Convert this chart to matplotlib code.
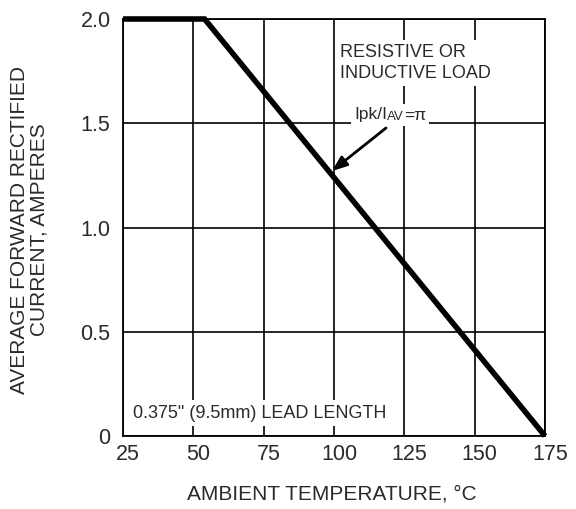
import matplotlib
matplotlib.use("Agg")
import matplotlib.pyplot as plt
import matplotlib.transforms as mtransforms
from matplotlib.offsetbox import TextArea, HPacker, AnnotationBbox

plt.rcParams['font.family'] = ['Liberation Sans', 'DejaVu Sans']

# Data
temps = [25, 54, 175]
current = [2.0, 2.0, 0.0]
x_ticks = [25, 50, 75, 100, 125, 150, 175]
x_tick_labels = ["25", "50", "75", "100", "125", "150", "175"]
y_ticks = [0, 0.5, 1.0, 1.5, 2.0]
y_tick_labels = ["0", "0.5", "1.0", "1.5", "2.0"]

W, H = 576, 509
fig = plt.figure(figsize=(W / 100, H / 100), dpi=100)
ax = fig.add_axes([123 / W, 1 - 436 / H, (545 - 123) / W, (436 - 19) / H])

txt_color = "#2a2a2a"

ax.set_xlim(25, 175)
ax.set_ylim(0, 2.0)
ax.set_xticks(x_ticks)
ax.set_xticklabels(x_tick_labels)
ax.set_yticks(y_ticks)
ax.set_yticklabels(y_tick_labels)
ax.tick_params(length=0, labelsize=15.5, colors=txt_color, pad=6)
ax.tick_params(axis='y', pad=9)
shift = mtransforms.ScaledTranslation(5 / 100, 0, fig.dpi_scale_trans)
for lab in ax.get_xticklabels():
    lab.set_transform(lab.get_transform() + shift)
ax.grid(True, color="black", linewidth=1.2, zorder=1)
for s in ax.spines.values():
    s.set_linewidth(1.3)
    s.set_color("black")

ax.plot(temps, current, color="black", linewidth=4, solid_capstyle="butt",
        solid_joinstyle="miter", zorder=5, clip_on=False)

bbox = dict(facecolor="white", edgecolor="none", pad=3)
ax.text(340 / W, 1 - 63 / H, "RESISTIVE OR\nINDUCTIVE LOAD", transform=fig.transFigure,
        fontsize=13, color=txt_color, va="center", ha="left", bbox=bbox, zorder=3,
        linespacing=1.25)
ax.text(133 / W, 1 - 413 / H, "0.375\" (9.5mm) LEAD LENGTH", transform=fig.transFigure,
        fontsize=13, color=txt_color, va="center", ha="left", bbox=bbox, zorder=3)

# Ipk/IAV=pi label with small-caps style "AV"
parts = HPacker(children=[
    TextArea("Ipk/I", textprops=dict(size=12.5, color=txt_color)),
    TextArea("AV", textprops=dict(size=9.5, color=txt_color)),
    TextArea("=π", textprops=dict(size=12.5, color=txt_color)),
], align="baseline", pad=0, sep=0)
ab = AnnotationBbox(parts, (354 / W, 1 - 115 / H), xycoords="figure fraction",
                    box_alignment=(0, 0.5), frameon=True, pad=0.25,
                    bboxprops=dict(facecolor="white", edgecolor="none"))
ab.set_zorder(3)
ax.add_artist(ab)

ax.annotate("", xy=(332 / W, 1 - 171 / H), xytext=(386 / W, 1 - 128 / H),
            xycoords="figure fraction", textcoords="figure fraction",
            arrowprops=dict(arrowstyle="-|>,head_length=0.9,head_width=0.35",
                            color="black", linewidth=2, shrinkA=0, shrinkB=0),
            zorder=6)

fig.text(332 / W, 1 - 494 / H, "AMBIENT TEMPERATURE, °C", fontsize=15,
         color=txt_color, ha="center", va="center")
fig.text(29 / W, 1 - 230 / H, "AVERAGE FORWARD RECTIFIED\nCURRENT, AMPERES",
         fontsize=15, color=txt_color, ha="center", va="center", rotation=90,
         multialignment="center", linespacing=1.05)

fig.savefig("out.png", dpi=100, facecolor="white")
